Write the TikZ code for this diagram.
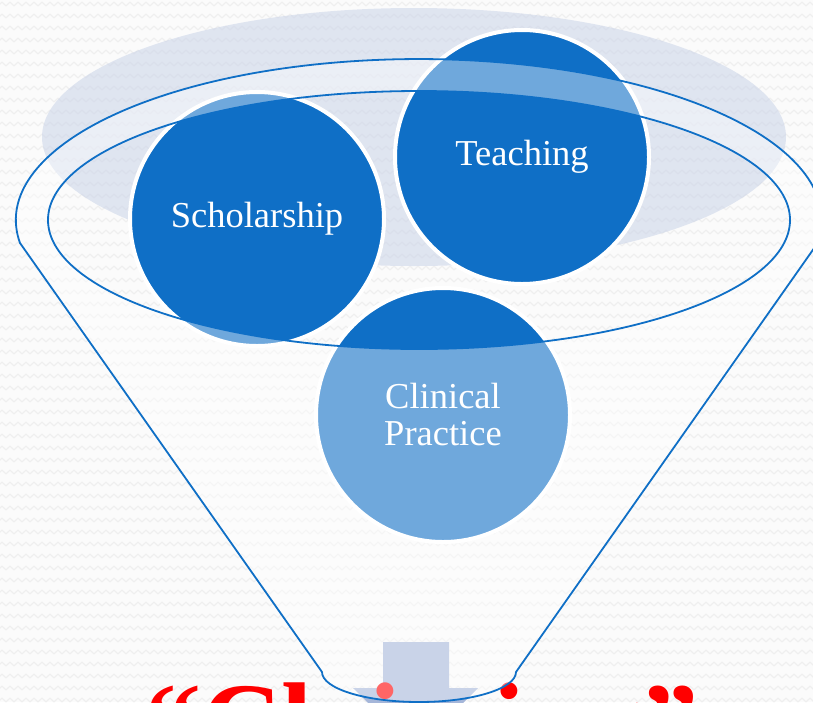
\documentclass[tikz,border=0pt]{standalone}
\usepackage{fontspec}
\setmainfont{Liberation Serif}
\usetikzlibrary{decorations.pathmorphing}
\definecolor{bluedark}{HTML}{0F6FC6}
\definecolor{greyblue}{HTML}{C9D3E8}
\definecolor{arrowc}{HTML}{A5B6D9}
\definecolor{bgc}{HTML}{FBFBFB}
\definecolor{zigc}{HTML}{EFEFEF}
\begin{document}
\begin{tikzpicture}[x=1pt,y=-1pt,
  bubble/.style={circle, fill=bluedark, draw=white, line width=4pt, minimum size=254pt,
    inner sep=0pt, text=white, font=\fontsize{36.5}{37}\selectfont, align=center},
  rim/.style={draw=bluedark, line width=1.8pt},
  zig/.style={draw=zigc, line width=1.2pt, decorate,
    decoration={zigzag, segment length=8pt, amplitude=1.8pt}}]
\useasboundingbox (0,0) rectangle (813,702);
\clip (0,0) rectangle (813,702);
% background
\fill[bgc] (0,0) rectangle (813,702);
\foreach \r in {4,16,...,700} \draw[zig] (-8,\r) -- (830,\r);
% grey ellipse
\fill[greyblue, fill opacity=0.55] (414,137) ellipse [x radius=372pt, y radius=129pt];
% circles
\node[bubble] (sch) at (257,219) {Scholarship};
\node[bubble] (tea) at (522,157) {Teaching};
\node[bubble] (cli) at (443,415) {Clinical\\Practice};
% arrow
\fill[arrowc] (383,642) -- (449,642) -- (449,688) -- (478,688) -- (416,750)
  -- (353,688) -- (383,688) -- cycle;
% red text
\node[text=red, font=\bfseries\fontsize{112}{130}\selectfont, anchor=base, inner sep=0pt]
  (clus) at (422,760) {“Claiming”};
% funnel overlay
\path[fill=white, fill opacity=0.4, even odd rule]
  (20,243) arc[start angle=188.2, end angle=-8.2, x radius=403pt, y radius=161pt]
  -- (516,672) arc[start angle=0, end angle=-180, x radius=97pt, y radius=30pt] -- cycle
  (419,220) ellipse [x radius=371pt, y radius=129pt];
\draw[rim]
  (20,243) arc[start angle=188.2, end angle=-8.2, x radius=403pt, y radius=161pt]
  -- (516,672) arc[start angle=0, end angle=-180, x radius=97pt, y radius=30pt] -- cycle;
\draw[rim] (419,220) ellipse [x radius=371pt, y radius=129pt];
\end{tikzpicture}
\end{document}
